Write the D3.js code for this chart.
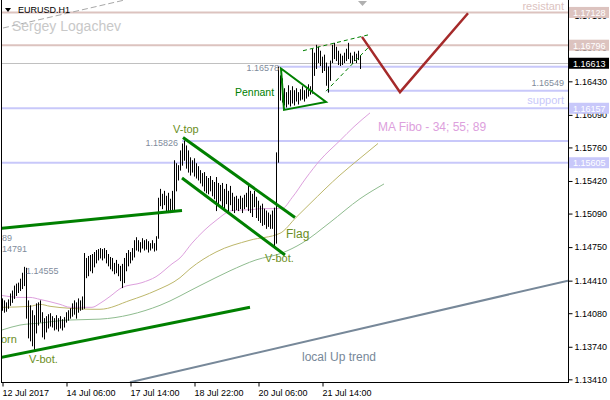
<!DOCTYPE html>
<html><head><meta charset="utf-8">
<script src="https://cdn.jsdelivr.net/npm/d3@7"></script>
<style>
body{margin:0;background:#fff}
svg{display:block}
text{font-family:"Liberation Sans",Arial,sans-serif}
</style>
</head><body>
<svg id="c" width="610" height="400"></svg>
<script>
// ---------------- DATA ----------------
const symbol = "EURUSD.H1";
const author = "Sergey Logachev";
// hourly bars, leftmost = 12 Jul 2017 22:00
const highs = [
1.1423,1.1421,1.1419,1.1422,1.1428,1.1431,1.1436,1.1438,1.1439,1.1443,
1.1449,1.1455,1.1454,1.1421,1.1416,1.1411,1.1406,1.1418,1.1419,1.1421,
1.1409,1.1403,1.1405,1.1407,1.1408,1.1405,1.1403,1.1406,1.1403,1.1405,
1.1402,1.1404,1.1409,1.1411,1.1413,1.1418,1.1421,1.1419,1.1423,1.1421,
1.1425,1.1469,1.1464,1.1466,1.1467,1.1468,1.1470,1.1472,1.1473,1.1474,
1.1473,1.1474,1.1472,1.1468,1.1465,1.1464,1.1459,1.1462,1.1458,1.1456,
1.1458,1.1464,1.1469,1.1472,1.1470,1.1474,1.1482,1.1485,1.1482,1.1480,
1.1484,1.1482,1.1483,1.1481,1.1479,1.1482,1.1479,1.1486,1.1525,1.1534,
1.1529,1.1532,1.1527,1.1530,1.1524,1.1532,1.1563,1.1560,1.1558,1.1573,
1.1580,1.1583,1.1578,1.1573,1.1566,1.1563,1.1565,1.1560,1.1557,1.1553,
1.1550,1.1551,1.1547,1.1545,1.1547,1.1543,1.1541,1.1546,1.1540,1.1538,
1.1540,1.1534,1.1539,1.1532,1.1537,1.1530,1.1526,1.1527,1.1524,1.1527,
1.1525,1.1528,1.1530,1.1537,1.1532,1.1529,1.1532,1.1526,1.1522,1.1517,
1.1519,1.1514,1.1512,1.1510,1.1508,1.1512,1.1515,1.1571,1.1658,1.1649,
1.1646,1.1636,1.1632,1.1639,1.1634,1.1638,1.1634,1.1636,1.1632,1.1635,
1.1638,1.1634,1.1636,1.1640,1.1638,1.1676,1.1672,1.1680,1.1678,1.1674,
1.1668,1.1670,1.1662,1.1658,1.1664,1.1680,1.1682,1.1678,1.1674,1.1671,
1.1669,1.1672,1.1676,1.1682,1.1672,1.1669,1.1673,1.1671,1.1674,1.1669];
const lows = [
1.1411,1.1409,1.1410,1.1413,1.1416,1.1419,1.1423,1.1426,1.1429,1.1431,
1.1433,1.1436,1.1403,1.1383,1.1380,1.1375,1.1370,1.1388,1.1396,1.1399,
1.1384,1.1382,1.1389,1.1393,1.1395,1.1394,1.1391,1.1392,1.1390,1.1393,
1.1391,1.1394,1.1399,1.1401,1.1403,1.1405,1.1407,1.1403,1.1409,1.1411,
1.1412,1.1413,1.1444,1.1446,1.1451,1.1449,1.1455,1.1459,1.1462,1.1464,
1.1462,1.1464,1.1459,1.1456,1.1453,1.1451,1.1448,1.1449,1.1446,1.1441,
1.1434,1.1439,1.1451,1.1456,1.1459,1.1462,1.1465,1.1472,1.1471,1.1470,
1.1474,1.1472,1.1473,1.1470,1.1472,1.1474,1.1471,1.1472,1.1484,1.1517,
1.1514,1.1518,1.1512,1.1510,1.1510,1.1512,1.1512,1.1532,1.1543,1.1553,
1.1558,1.1563,1.1555,1.1551,1.1548,1.1551,1.1547,1.1545,1.1543,1.1540,
1.1537,1.1532,1.1530,1.1529,1.1532,1.1527,1.1524,1.1512,1.1517,1.1522,
1.1516,1.1512,1.1519,1.1509,1.1518,1.1512,1.1510,1.1513,1.1512,1.1514,
1.1510,1.1514,1.1516,1.1512,1.1510,1.1506,1.1516,1.1505,1.1502,1.1500,
1.1497,1.1498,1.1494,1.1496,1.1494,1.1494,1.1476,1.1479,1.1561,1.1624,
1.1622,1.1619,1.1617,1.1620,1.1618,1.1621,1.1619,1.1623,1.1620,1.1624,
1.1625,1.1623,1.1626,1.1628,1.1630,1.1631,1.1649,1.1656,1.1662,1.1659,
1.1652,1.1654,1.1639,1.1632,1.1644,1.1662,1.1666,1.1664,1.1660,1.1659,
1.1660,1.1662,1.1664,1.1666,1.1662,1.1661,1.1664,1.1662,1.1665,1.1656];

// Moving averages (MA Fibo 34, 55, 89) read at bar indices
const ma34Idx = [0,9,14,19,29,34,40,45,49,54,60,70,77,85,89,95,107,115,125,130,140,145,152,159,169,176,184];
const ma34 = [1.1426,1.1424,1.1424,1.1422,1.1417,1.1414,1.1414,1.1414,1.1418,1.1425,1.1434,1.1439,1.1445,1.1458,1.1464,1.1479,1.1502,1.1512,1.1513,1.1514,1.1514,1.1525,1.1545,1.1563,1.1583,1.1597,1.1611];
const ma55Idx = [0,14,19,24,34,45,49,64,77,89,94,107,124,139,147,154,169,179,188];
const ma55 = [1.1414,1.1415,1.1417,1.1415,1.1413,1.1412,1.1412,1.1421,1.1431,1.1444,1.1453,1.1470,1.1482,1.1489,1.1505,1.1519,1.1548,1.1565,1.1580];
const ma89Idx = [0,9,19,32,49,79,99,114,127,140,150,164,179,191];
const ma89 = [1.1391,1.1396,1.1398,1.1401,1.1402,1.1416,1.1436,1.1451,1.1462,1.1469,1.1479,1.1500,1.1524,1.1539];

// axis
const yTicks = [1.13410,1.13740,1.14080,1.14410,1.14750,1.15090,1.15420,1.15760,1.16090,1.16430,1.16770,1.17100];
const xTickIdx = [0,32,64,96,128,160];
const xTickLabels = ["12 Jul 2017","14 Jul 06:00","17 Jul 14:00","18 Jul 22:00","20 Jul 06:00","21 Jul 14:00"];

// levels
const bid = 1.16613;
const resistLevels = [1.17128, 1.16796];
const supportLevels = [1.16578, 1.16335, 1.16157, 1.15826, 1.15605];
const supportFrom = [138, 162.5, -1, 90, -1];
const axisTagsResist = [1.17128, 1.16796];
const axisTagsSupport = [1.16157, 1.15605];

// drawn objects: [bar index, price]
const trendThick = [
  [[-1,1.1494],[90,1.1512]],
  [[-1,1.1363],[124,1.1414]],
  [[90.5,1.1586],[146.5,1.1505]],
  [[90,1.1545],[141.5,1.1467]]
];
const pennant = [[139.5,1.1656],[162,1.1622],[141,1.1614]];
const pennantDashed = [
  [[150.5,1.1674],[183,1.1690]],
  [[162,1.1633],[184,1.1679]]
];
const forecast = [[180,1.1688],[199,1.1632],[233,1.1712]];
const upTrend = [[64,1.1338],[283,1.1441]];
const upTrendParallel = [[0.5,1.1697],[60.5,1.1725]];

// ---------------- DRAW ----------------
const svg = d3.select('#c');
const L = 2, R = 568, B = 382;
const x = d3.scaleLinear().domain([0,283]).range([2,568]);
const y = d3.scaleLinear().domain([1.13383,1.17254]).range([382,0]);

svg.append('rect').attr('width',610).attr('height',400).attr('fill','#fff');
svg.append('defs').append('clipPath').attr('id','pc')
  .append('rect').attr('x',L).attr('y',0).attr('width',R-L).attr('height',B);
const g = svg.append('g').attr('clip-path','url(#pc)');

const line = d3.line().x(d=>x(d[0])).y(d=>y(d[1]));

// horizontal levels
resistLevels.forEach(v=>{
  g.append('line').attr('x1',L).attr('x2',R).attr('y1',y(v)).attr('y2',y(v))
   .attr('stroke','#dcc3bf').attr('stroke-width',2);
});
g.append('line').attr('x1',L).attr('x2',R).attr('y1',Math.round(y(bid))+0.5).attr('y2',Math.round(y(bid))+0.5)
  .attr('stroke','#c0c0c0').attr('stroke-width',1);
supportLevels.forEach((v,i)=>{
  g.append('line').attr('x1',x(supportFrom[i])).attr('x2',R).attr('y1',y(v)).attr('y2',y(v))
   .attr('stroke','#c8c8fa').attr('stroke-width',2);
});

// MAs
const maLine = d3.line().curve(d3.curveMonotoneX).x(d=>x(d[0])).y(d=>y(d[1]));
[[ma89Idx,ma89,'#8fbc8f'],[ma55Idx,ma55,'#bdb76b'],[ma34Idx,ma34,'#dda0dd']].forEach(([idx,vals,c])=>{
  g.append('path').attr('d',maLine(idx.map((d,i)=>[d,vals[i]])))
   .attr('fill','none').attr('stroke',c).attr('stroke-width',1);
});

// trend lines
g.append('path').attr('d',line(upTrend)).attr('stroke','#778899').attr('stroke-width',2).attr('fill','none');
g.append('path').attr('d',line(upTrendParallel)).attr('stroke','#a8a8a8').attr('stroke-width',1)
  .attr('stroke-dasharray','6,3').attr('fill','none');

// bars
g.append('g').selectAll('line').data(highs).join('line')
  .attr('x1',(d,i)=>Math.round(x(i))+0.5).attr('x2',(d,i)=>Math.round(x(i))+0.5)
  .attr('y1',d=>y(d)).attr('y2',(d,i)=>y(lows[i])+0.5)
  .attr('stroke','#000').attr('stroke-width',1);

trendThick.forEach(t=>{
  g.append('path').attr('d',line(t)).attr('stroke','#008000').attr('stroke-width',3).attr('fill','none');
});
g.append('path').attr('d',line(pennant)+'Z').attr('stroke','#008000').attr('stroke-width',2).attr('fill','none');
pennantDashed.forEach(t=>{
  g.append('path').attr('d',line(t)).attr('stroke','#008000').attr('stroke-width',1)
   .attr('stroke-dasharray','4,3').attr('fill','none');
});
g.append('path').attr('d',line(forecast)).attr('stroke','#a52a2a').attr('stroke-width',2.5).attr('fill','none');

// chart shift marker
svg.append('path').attr('d','M358,1L367,1L362.5,6Z').attr('fill','#b0b0b0');

// texts
function txt(s,px,py,size,color,anchor){
  return svg.append('text').attr('x',px).attr('y',py).attr('font-size',size).attr('fill',color)
    .attr('text-anchor',anchor||'start').text(s);
}
svg.append('path').attr('d','M5,8L11,8L8,12Z').attr('fill','#000');
txt(symbol,18,13,9,'#000');
txt(author,12,31,14,'#c8c8c8');
txt('resistant',564,10,11,'#dcc3bf','end');
txt('support',564,104,11,'#c8c8fa','end');
txt('1.16549',564,86,9,'#7f8c9c','end');
txt('1.16578',279,71,9,'#7f8c9c','end');
txt('1.15826',178,146,9,'#7f8c9c','end');
txt('1.14555',26,274,9,'#7f8c9c');
txt('89',2,241,9,'#7f8c9c');
txt('14791',2,252,9,'#7f8c9c');
txt('Pennant',235,96,10.5,'#008000');
txt('V-top',173,133,11,'#6b8e23');
txt('V-bot.',29,363,11,'#6b8e23');
txt('V-bot.',265,262,11,'#6b8e23');
txt('orn',1,343,11,'#6b8e23');
txt('Flag',286,238,12,'#6b8e23');
txt('MA Fibo - 34; 55; 89',378,131,12,'#dda0dd');
txt('local Up trend',302,361,12,'#778899');

// axes frame
svg.append('line').attr('x1',1.5).attr('x2',1.5).attr('y1',0).attr('y2',B).attr('stroke','#000');
svg.append('line').attr('x1',R+0.5).attr('x2',R+0.5).attr('y1',0).attr('y2',B+1).attr('stroke','#000');
svg.append('line').attr('x1',1).attr('x2',R+1).attr('y1',B+0.5).attr('y2',B+0.5).attr('stroke','#000');

const yAx = svg.append('g').attr('transform',`translate(${R+0.5},0)`)
  .call(d3.axisRight(y).tickValues(yTicks).tickSize(4).tickPadding(2).tickFormat(d3.format('.5f')));
yAx.select('.domain').remove();
yAx.selectAll('text').attr('font-size',9).attr('font-family','"Liberation Sans",Arial,sans-serif').attr('fill','#000');

const xAx = svg.append('g').attr('transform',`translate(0,${B+0.5})`)
  .call(d3.axisBottom(x).tickValues(xTickIdx).tickSize(4).tickFormat((d,i)=>xTickLabels[i]));
xAx.select('.domain').remove();
xAx.selectAll('.tick line').attr('transform','translate(0.5,0)');
xAx.selectAll('text').attr('text-anchor','start').attr('font-size',9)
  .attr('font-family','"Liberation Sans",Arial,sans-serif').attr('fill','#000');

// axis price tags
function tag(v,bg){
  const cy = y(v);
  svg.append('rect').attr('x',569).attr('y',cy-5.5).attr('width',40).attr('height',11).attr('fill',bg);
  svg.append('text').attr('x',573).attr('y',cy+3.5).attr('font-size',9).attr('fill','#fff').text(v.toFixed(5));
}
axisTagsResist.forEach(v=>tag(v,'#dcc3bf'));
axisTagsSupport.forEach(v=>tag(v,'#c8c8fa'));
tag(bid,'#000');
</script>
</body></html>
